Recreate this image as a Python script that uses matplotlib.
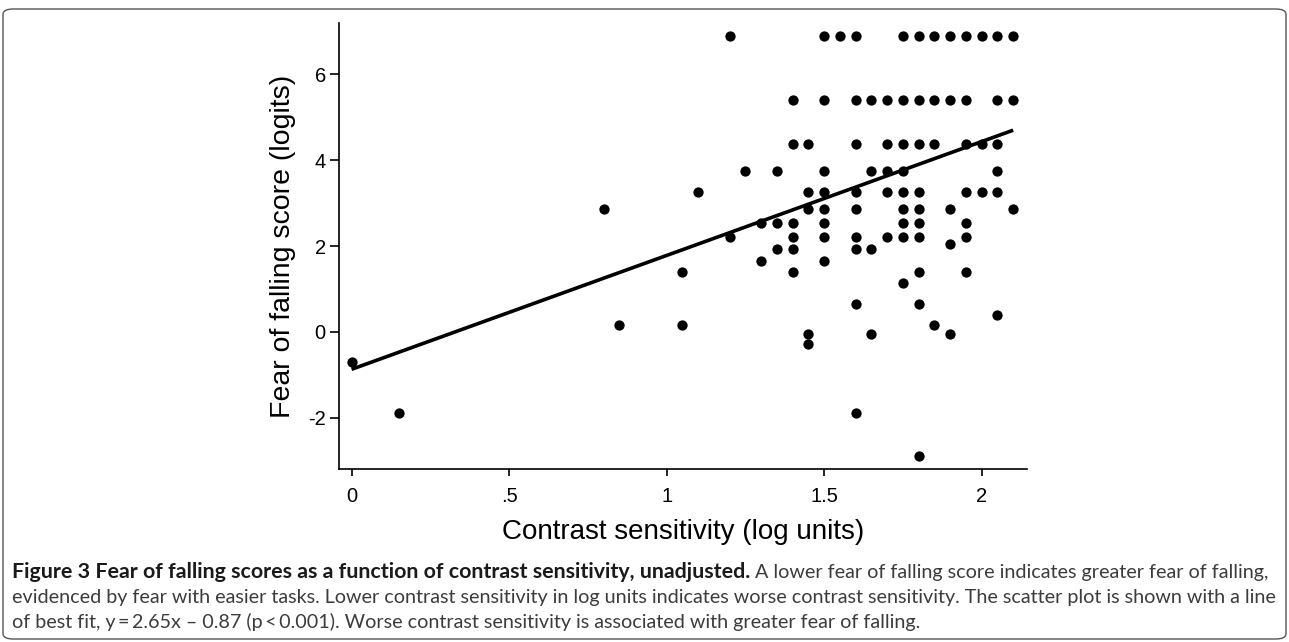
import matplotlib
matplotlib.use("Agg")
import matplotlib.pyplot as plt
from matplotlib.patches import FancyBboxPatch
import numpy as np

plt.rcParams["axes.unicode_minus"] = False

# contrast sensitivity (log units) and fear of falling score (logits)
contrast = [1.2, 1.5, 1.55, 1.6, 1.75, 1.8, 1.85, 1.9, 1.95, 2.0, 2.05, 2.1,
            1.4, 1.5, 1.6, 1.65, 1.7, 1.75, 1.8, 1.85, 1.9, 1.95, 2.05, 2.1,
            1.4, 1.45, 1.6, 1.7, 1.75, 1.8, 1.85, 1.95, 2.0, 2.05,
            1.25, 1.35, 1.5, 1.65, 1.7, 1.75, 2.05,
            1.1, 1.45, 1.5, 1.6, 1.7, 1.75, 1.8, 1.95, 2.0, 2.05,
            0.8, 1.45, 1.5, 1.6, 1.75, 1.8, 1.9, 2.1,
            1.3, 1.35, 1.4, 1.5, 1.75, 1.8, 1.95,
            1.2, 1.4, 1.5, 1.6, 1.7, 1.75, 1.8, 1.95,
            1.9,
            1.35, 1.4, 1.6, 1.65,
            1.3, 1.5,
            1.05, 1.4, 1.8, 1.95,
            1.75,
            1.6, 1.8,
            2.05,
            0.85, 1.05, 1.85,
            1.45, 1.65, 1.9,
            1.45,
            0.0,
            0.15, 1.6,
            1.8]
fear = [6.88] * 12 + [5.40] * 12 + [4.38] * 10 + [3.74] * 7 + [3.26] * 10 + \
       [2.86] * 8 + [2.53] * 7 + [2.20] * 8 + [2.04] + [1.92] * 4 + [1.64] * 2 + \
       [1.39] * 4 + [1.13] + [0.64] * 2 + [0.40] + [0.17] * 3 + [-0.05] * 3 + \
       [-0.28] + [-0.71] + [-1.89] * 2 + [-2.88]

# line of best fit from the caption
slope = 2.65
intercept = -0.87

xticks = [0, 0.5, 1, 1.5, 2]
xticklabels = ["0", ".5", "1", "1.5", "2"]
yticks = [-2, 0, 2, 4, 6]

caption_bold = "Figure 3 Fear of falling scores as a function of contrast sensitivity, unadjusted."
caption_rest = " A lower fear of falling score indicates greater fear of falling,"
caption_line2 = ("evidenced by fear with easier tasks. Lower contrast sensitivity in log units "
                 "indicates worse contrast sensitivity. The scatter plot is shown with a line")
caption_line3 = ("of best fit, y\u2009=\u20092.65x \u2013 0.87 (p\u2009<\u20090.001). Worse contrast "
                 "sensitivity is associated with greater fear of falling.")

W, H = 1289, 642
fig = plt.figure(figsize=(W / 100, H / 100), dpi=100)
ax = fig.add_axes([339.3 / W, 1 - 469 / H, (1026.7 - 339.3) / W, (469 - 23) / H])

ax.scatter(contrast, fear, s=55, color="black", linewidths=0, zorder=3)
xs = np.array([min(contrast), max(contrast)])
ax.plot(xs, slope * xs + intercept, color="black", lw=2.6, solid_capstyle="butt", zorder=2)

ax.set_xlim(-0.039, 2.143)
ax.set_ylim(-3.19, 7.19)
for s in ["top", "right"]:
    ax.spines[s].set_visible(False)
for s in ["left", "bottom"]:
    ax.spines[s].set_linewidth(1.2)

ax.set_xticks(xticks)
ax.set_xticklabels(xticklabels)
ax.set_yticks(yticks)
ax.tick_params(axis="x", length=5, width=1.2, pad=8, labelsize=14.5)
ax.tick_params(axis="y", length=6.7, width=1.2, pad=3, labelsize=14.5)
for lab in ax.get_xticklabels() + ax.get_yticklabels():
    lab.set_family("Liberation Sans")

ax.set_xlabel("Contrast sensitivity (log units)", fontsize=20, family="Liberation Sans", labelpad=9)
ax.set_ylabel("Fear of falling score (logits)", fontsize=20.5, family="Liberation Sans", labelpad=9)

# border round the whole panel
fig.patches.append(FancyBboxPatch((3 / W, 3 / H), (W - 6) / W, (H - 12) / H,
                                  boxstyle="round,pad=0,rounding_size=0.008",
                                  transform=fig.transFigure, fill=False,
                                  edgecolor="#555555", lw=1.0))

# caption: regular size fitted to line 2, bold size so that line 1 ends where it does
cap_font = "Lato"
gray = "#3c3c3c"
left = 12
x0 = left / W
r = fig.canvas.get_renderer()

t_l2 = fig.text(x0, 1 - 603 / H, caption_line2, fontsize=12, family=cap_font, color=gray, va="baseline")
fig.canvas.draw()
reg_size = 12 * (1271 - left) / (t_l2.get_window_extent(r).x1 - left)
t_l2.set_fontsize(reg_size)
fig.text(x0, 1 - 628 / H, caption_line3, fontsize=reg_size, family=cap_font, color=gray, va="baseline")

t_rest = fig.text(0, 1 - 578 / H, caption_rest, fontsize=reg_size, family=cap_font, color=gray, va="baseline")
fig.canvas.draw()
rest_w = t_rest.get_window_extent(r).width
t_b = fig.text(x0, 1 - 578 / H, caption_bold, fontsize=12, weight="bold",
               family=cap_font, color="#1a1a1a", va="baseline")
fig.canvas.draw()
bold_target = 1264 - rest_w - left
t_b.set_fontsize(12 * bold_target / t_b.get_window_extent(r).width)
fig.canvas.draw()
t_rest.set_x(t_b.get_window_extent(r).x1 / W)

fig.savefig("out.png", dpi=100)
